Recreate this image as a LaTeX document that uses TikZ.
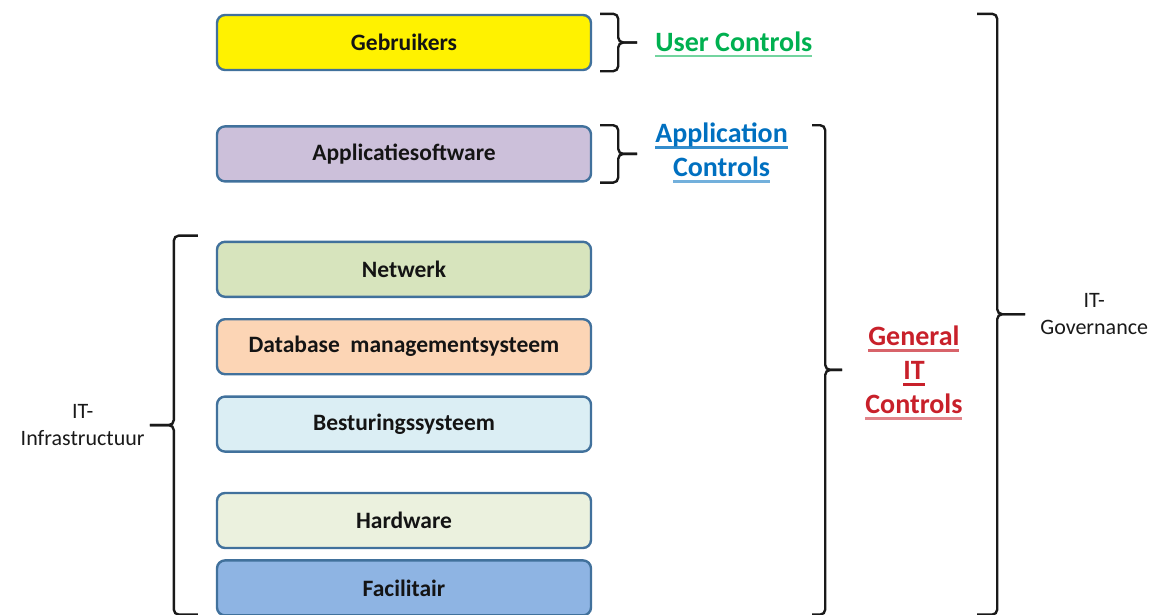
\documentclass[tikz,border=0pt]{standalone}
\usepackage{fontspec}
\setmainfont{Carlito}
\usetikzlibrary{positioning}
\usetikzlibrary{calc}
\definecolor{edge}{HTML}{41719C}
\definecolor{appcol}{HTML}{CCC0DA}
\definecolor{netcol}{HTML}{D7E4BD}
\definecolor{dbcol}{HTML}{FCD5B5}
\definecolor{oscol}{HTML}{DBEEF4}
\definecolor{hwcol}{HTML}{EBF1DE}
\definecolor{faccol}{HTML}{8EB4E3}
\definecolor{ucgreen}{HTML}{00B050}
\definecolor{acblue}{HTML}{0070C0}
\definecolor{gcred}{RGB}{200,32,42}
\newcommand{\undl}[2]{\setbox0\hbox{#2}\rlap{\textcolor{#1}{\rule[-6pt]{\wd0}{2.8pt}}}\box0}
\tikzset{layer/.style={draw=edge, line width=2.4pt, rounded corners=8pt,
minimum width=374pt, minimum height=55pt,
font=\fontsize{23.5}{28}\selectfont\bfseries, text=black!92},
ctrl/.style={font=\fontsize{28}{34}\selectfont\bfseries, align=center, inner sep=2pt},
note/.style={font=\fontsize{22}{27}\selectfont, align=center, text=black!90, inner sep=2pt},
brk/.style={draw=black!90, line width=2.4pt, rounded corners=5pt}}

\begin{document}
\begin{tikzpicture}[x=1pt,y=-1pt]
  \useasboundingbox (0,0) rectangle (1155,614);

  \node (gebr) [layer, fill=yellow] at (404,42.5) {Gebruikers};
  \node (app) [layer, fill=appcol, below=54pt of gebr] {Applicatiesoftware};
  \node (net) [layer, fill=netcol, below=58pt of app] {Netwerk};
  \node (dbms) [layer, fill=dbcol, below=20pt of net] {Database\ \ managementsysteem};
  \node (os) [layer, fill=oscol, below=20pt of dbms] {Besturingssysteem};
  \node (hw) [layer, fill=hwcol, below=39pt of os] {Hardware};
  \node (fac) [layer, fill=faccol, below=10pt of hw] {Facilitair};

  % user / application controls
  \coordinate (utip) at ($(gebr.east)+(45,0)$);
  \draw [brk] ($(gebr.north east)+(8,0)$) -- ++(18,0) |- (utip);
  \draw [brk] ($(gebr.south east)+(8,0)$) -- ++(18,0) |- (utip);
  \coordinate (atip) at ($(app.east)+(45,0)$);
  \draw [brk] ($(app.north east)+(8,0)$) -- ++(18,0) |- (atip);
  \draw [brk] ($(app.south east)+(8,0)$) -- ++(18,0) |- (atip);

  % general IT controls
  \coordinate (gtop) at ($(app.north east)+(220,0)$);
  \coordinate (gbot) at ($(fac.south east)+(220,-2)$);
  \coordinate (gtip) at ($(gtop)!0.5!(gbot)+(30,0)$);
  \draw [brk] (gtop) -- ++(13,0) |- (gtip);
  \draw [brk] (gbot) -- ++(13,0) |- (gtip);

  % IT-governance
  \coordinate (vtop) at ($(gebr.north east)+(385,0)$);
  \coordinate (vbot) at ($(fac.south east)+(385,-2)$);
  \coordinate (vtip) at ($(vtop)!0.5!(vbot)+(48,0)$);
  \draw [brk] (vtop) -- ++(20,0) |- (vtip);
  \draw [brk] (vbot) -- ++(20,0) |- (vtip);

  % IT-infrastructuur
  \coordinate (itop) at ($(net.north west)+(-18,-5)$);
  \coordinate (ibot) at ($(fac.south west)+(-18,-2)$);
  \coordinate (itip) at ($(itop)!0.5!(ibot)+(-48,0)$);
  \draw [brk] (itop) -- ++(-24,0) |- (itip);
  \draw [brk] (ibot) -- ++(-24,0) |- (itip);

  \node (uc) [ctrl, text=ucgreen, right=16pt of utip, yshift=-2pt] {\undl{ucgreen!55}{User Controls}};
  \node (ac) [ctrl, text=acblue, right=16pt of atip, yshift=1pt] {\undl{acblue!80}{Application}\\\undl{acblue!55}{Controls}};
  \node (gc) [ctrl, text=gcred, right=21pt of gtip, yshift=-3pt] {\undl{gcred!70}{General}\\\undl{gcred}{IT}\\\undl{gcred!55}{Controls}};
  \node (gov) [note, right=13pt of vtip] {IT-\\Governance};
  \node (infra) [note, left=3pt of itip] {IT-\\Infrastructuur};
\end{tikzpicture}
\end{document}
